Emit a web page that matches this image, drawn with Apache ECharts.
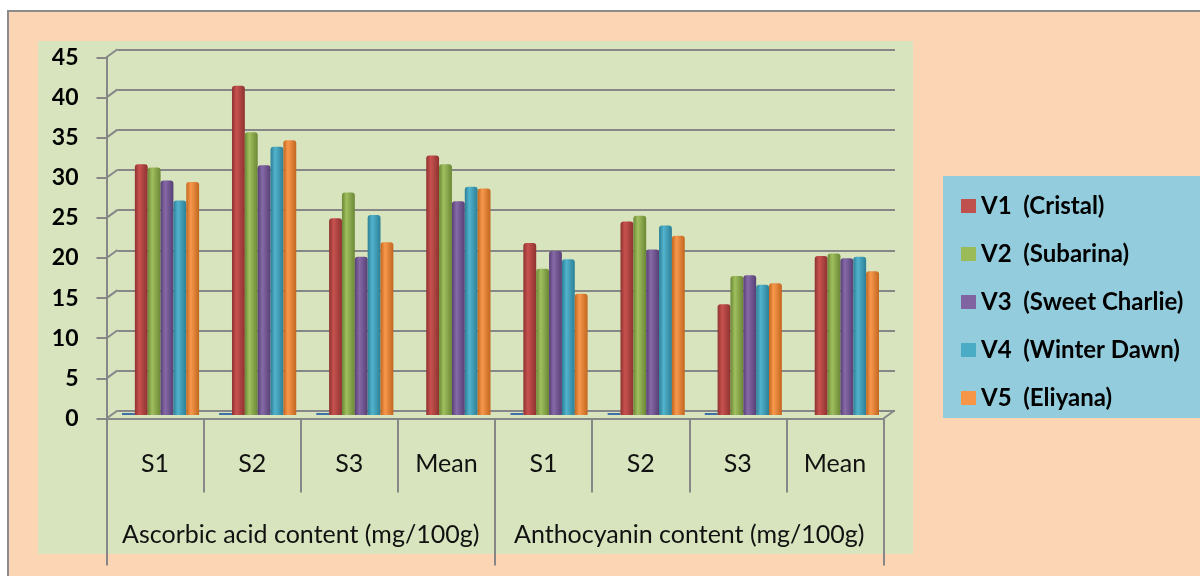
<!DOCTYPE html>
<html>
<head>
<meta charset="utf-8">
<title>Ascorbic acid and anthocyanin content</title>
<script src="https://cdn.jsdelivr.net/npm/echarts@6.0.0/dist/echarts.min.js"></script>
<style>
  html, body { margin: 0; padding: 0; background: #ffffff; }
  #main { width: 1200px; height: 576px; }
</style>
</head>
<body>
<div id="main"></div>
<script>
const categories = ["S1", "S2", "S3", "Mean", "S1", "S2", "S3", "Mean"];
const groups = ["Ascorbic acid content (mg/100g)", "Anthocyanin content (mg/100g)"];
const seriesNames = ["V1  (Cristal)", "V2  (Subarina)", "V3  (Sweet Charlie)", "V4  (Winter Dawn)", "V5  (Eliyana)"];
const v1 = [31.2, 41.0, 24.5, 32.3, 21.4, 24.1, 13.8, 19.8];
const v2 = [30.8, 35.2, 27.7, 31.2, 18.2, 24.8, 17.3, 20.1];
const v3 = [29.2, 31.1, 19.7, 26.6, 20.4, 20.6, 17.4, 19.5];
const v4 = [26.7, 33.4, 24.9, 28.4, 19.4, 23.6, 16.2, 19.7];
const v5 = [29.0, 34.2, 21.5, 28.2, 15.1, 22.3, 16.4, 17.9];
// empty first series of the workbook, only a flat disc shows
const blank = [0, 0, 0, null, 0, 0, 0, null];
const yTicks = [0, 5, 10, 15, 20, 25, 30, 35, 40, 45];

const FONT = "Lato";
const GRID_LINE = "#878787";
// [edge, light] shades per series, for the cylinder look
const shades = [
  ["#8e3230", "#c8524f"],
  ["#6b8735", "#a0bf5e"],
  ["#573f75", "#866aa8"],
  ["#2c7f96", "#52b3cd"],
  ["#c2661f", "#f7984c"]
];
const flat = ["#c0504d", "#9bbb59", "#8064a2", "#4bacc6", "#f79646"];

function cylinder(s) {
  return new echarts.graphic.LinearGradient(0, 0, 1, 0, [
    { offset: 0, color: s[0] },
    { offset: 0.35, color: s[1] },
    { offset: 1, color: s[0] }
  ]);
}

const chart = echarts.init(document.getElementById("main"));
const values = [v1, v2, v3, v4, v5];

// bars sit in the middle depth grid (axes index 3 / 2)
const barSeries = values.map(function(d, i) {
  return {
    name: seriesNames[i],
    type: "bar",
    xAxisIndex: 3,
    yAxisIndex: 2,
    data: d,
    barGap: "0%",
    barCategoryGap: "20.6%",
    itemStyle: { color: cylinder(shades[i]), borderRadius: [3, 3, 0, 0] },
    silent: true
  };
});

// diagonal depth lines from the front axis to the back wall
const depthData = yTicks.map(function(v) { return [0, v, -1]; });
depthData.push([categories.length - 1, 0, 1]);

const option = {
  backgroundColor: "#ffffff",
  animation: false,
  graphic: [
    { type: "rect", z: -10, shape: { x: 8, y: 11, width: 1200, height: 580 },
      style: { fill: "#fcd5b5", stroke: "#8c8c8c", lineWidth: 2 } },
    { type: "rect", z: -9, shape: { x: 38, y: 41, width: 875, height: 513 },
      style: { fill: "#d7e4bd" } },
    { type: "rect", z: -9, shape: { x: 943, y: 176, width: 260, height: 242 },
      style: { fill: "#93cddd" } }
  ],
  legend: {
    orient: "vertical",
    left: 956,
    top: 189,
    itemWidth: 15,
    itemHeight: 14,
    itemGap: 24,
    icon: "rect",
    data: seriesNames.map(function(n, i) {
      return { name: n, itemStyle: { color: flat[i] } };
    }),
    textStyle: { fontFamily: FONT, fontWeight: "bold", fontSize: 24, lineHeight: 24, color: "#000" }
  },
  grid: [
    { left: 106.5, right: 316.5, top: 57.3, bottom: 157.5 },
    { left: 117.5, right: 305, top: 49.5, bottom: 165 },
    { left: 112, right: 311, top: 53.5, bottom: 161 }
  ],
  xAxis: [
    {
      gridIndex: 0,
      type: "category",
      data: categories,
      axisLine: { show: true, lineStyle: { color: GRID_LINE, width: 2 } },
      axisTick: { show: true, length: 74, interval: 0, lineStyle: { color: GRID_LINE, width: 2 } },
      axisLabel: { interval: 0, margin: 33, fontFamily: FONT, fontSize: 25, color: "#111" }
    },
    {
      gridIndex: 0,
      type: "category",
      data: groups,
      position: "bottom",
      axisLine: { show: false },
      axisTick: { show: true, length: 147, interval: 0, lineStyle: { color: GRID_LINE, width: 2 } },
      axisLabel: { interval: 0, margin: 104, fontFamily: FONT, fontSize: 25, color: "#111" }
    },
    { gridIndex: 1, type: "category", data: categories, show: false },
    { gridIndex: 2, type: "category", data: categories, show: false }
  ],
  yAxis: [
    {
      gridIndex: 0,
      type: "value",
      min: 0,
      max: 45,
      interval: 5,
      axisLine: { show: true, lineStyle: { color: GRID_LINE, width: 2 } },
      axisTick: { show: true, length: 10, lineStyle: { color: GRID_LINE, width: 2 } },
      axisLabel: { margin: 28, fontFamily: FONT, fontWeight: "bold", fontSize: 23, color: "#000" },
      splitLine: { show: false }
    },
    {
      gridIndex: 1,
      type: "value",
      min: 0,
      max: 45,
      interval: 5,
      axisLine: { show: false },
      axisTick: { show: false },
      axisLabel: { show: false },
      splitLine: { show: true, lineStyle: { color: GRID_LINE, width: 2 } }
    },
    { gridIndex: 2, type: "value", min: 0, max: 45, interval: 5, show: false, splitLine: { show: false } }
  ],
  series: [
    {
      name: "blank",
      type: "bar",
      xAxisIndex: 3,
      yAxisIndex: 2,
      data: blank,
      barGap: "0%",
      barCategoryGap: "20.6%",
      barMinHeight: 2,
      itemStyle: { color: "#3f6fa8" },
      silent: true
    }
  ].concat(barSeries).concat([
    {
      type: "custom",
      xAxisIndex: 0,
      yAxisIndex: 0,
      silent: true,
      data: depthData,
      renderItem: function(params, api) {
        const p = api.coord([api.value(0), api.value(1)]);
        const half = api.size([1, 0])[0] / 2;
        const x = p[0] + api.value(2) * half;
        return {
          type: "line",
          shape: { x1: x, y1: p[1], x2: x + 11, y2: p[1] - 8 },
          style: { stroke: GRID_LINE, lineWidth: 2 }
        };
      }
    }
  ])
};
chart.setOption(option);
</script>
</body>
</html>
